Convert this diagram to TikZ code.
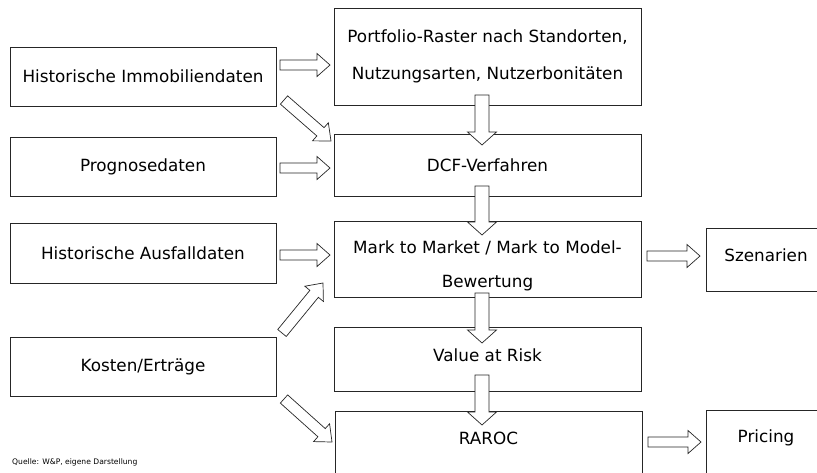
\documentclass[tikz,border=0pt]{standalone}
\usepackage{fontspec}
\setmainfont{DejaVu Sans}
\usetikzlibrary{calc}
\newcommand\blockarr[5]{% #1 tail, #2 tip, #3 half shaft, #4 half head, #5 head length
  \coordinate (tmpH) at ($(#2)!#5!(#1)$);
  \draw[arrowline] ($(#1)!#3!90:(#2)$) -- ($(tmpH)!#3!-90:(#1)$) -- ($(tmpH)!#4!-90:(#1)$) -- (#2)
    -- ($(tmpH)!#4!90:(#1)$) -- ($(tmpH)!#3!90:(#1)$) -- ($(#1)!#3!-90:(#2)$) -- cycle;}
\begin{document}
\begin{tikzpicture}[x=1pt,y=-1pt,
  box/.style={draw=black!85, line width=0.8pt, inner sep=0pt, align=center,
    font=\fontsize{16.8}{37}\selectfont},
  lbl/.style={inner sep=0pt, font=\fontsize{16.8}{37}\selectfont},
  arrowline/.style={draw=black!85, line width=0.7pt, fill=white, line join=miter}]
\clip (0,0) rectangle (817,472);
\useasboundingbox (0,0) rectangle (817,472);
% left boxes
\node[box, minimum width=266, minimum height=59] (hi) at (143,76.5) {Historische Immobiliendaten};
\node[box, minimum width=266, minimum height=59] (pr) at (143,166.5) {Prognosedaten};
\node[box, minimum width=266, minimum height=60] (au) at (143,253) {Historische Ausfalldaten};
\node[box, minimum width=266, minimum height=59] (ko) at (143,366.5) {Kosten/Erträge};
% centre boxes
\node[box, minimum width=307, minimum height=97] (po) at (487.5,56.5) {Portfolio-Raster nach Standorten,\\Nutzungsarten, Nutzerbonitäten};
\node[box, minimum width=307, minimum height=62] (dcf) at (487.5,165) {DCF-Verfahren};
\node[box, minimum width=307, minimum height=76] (mtm) at (487.5,259) {};
\node[lbl, align=center, font=\fontsize{16.8}{34}\selectfont] (mtmT) at (487.5,266) {Mark to Market / Mark to Model-\\Bewertung};
\node[box, minimum width=307, minimum height=64] (var) at (487.5,359) {};
\node[lbl] (varT) at (487.5,355) {Value at Risk};
\node[box, minimum width=307, minimum height=80] (ra) at (488.5,451) {};
\node[lbl] (raT) at (488.5,438) {RAROC};
% right boxes
\node[box, minimum width=124, minimum height=63] (sz) at (768,259.5) {};
\node[lbl] (szT) at (766,255) {Szenarien};
\node[box, minimum width=124, minimum height=80] (pc) at (768,450) {};
\node[lbl] (pcT) at (766,438) {Pricing};
% source
\node[inner sep=0pt, anchor=west, font=\fontsize{7.6}{9}\selectfont] (src) at (12,462) {Quelle: W\&P, eigene Darstellung};
% arrow end points
\coordinate (a1) at (280,65);  \coordinate (b1) at (330,65);
\coordinate (a2) at (284,100); \coordinate (b2) at (331,141);
\coordinate (a3) at (280,168); \coordinate (b3) at (330,168);
\coordinate (a4) at (482,95);  \coordinate (b4) at (482,145);
\coordinate (a5) at (482,186); \coordinate (b5) at (482,235);
\coordinate (a6) at (280,255); \coordinate (b6) at (330,255);
\coordinate (a7) at (282,333); \coordinate (b7) at (323,283);
\coordinate (a8) at (647,256); \coordinate (b8) at (700,256);
\coordinate (a9) at (482,293); \coordinate (b9) at (482,343);
\coordinate (a10) at (482,375); \coordinate (b10) at (482,425);
\coordinate (a11) at (284,399); \coordinate (b11) at (332,442);
\coordinate (a12) at (648,442); \coordinate (b12) at (701,442);
% horizontal arrows
\blockarr{a1}{b1}{5pt}{11.5pt}{13pt}
\blockarr{a3}{b3}{5pt}{11.5pt}{13pt}
\blockarr{a6}{b6}{5pt}{11.5pt}{13pt}
\blockarr{a8}{b8}{5pt}{11.5pt}{13pt}
\blockarr{a12}{b12}{5pt}{11.5pt}{13pt}
% vertical arrows
\blockarr{a4}{b4}{7pt}{14.5pt}{13pt}
\blockarr{a5}{b5}{7pt}{14.5pt}{13pt}
\blockarr{a9}{b9}{7pt}{14.5pt}{13pt}
\blockarr{a10}{b10}{7pt}{14.5pt}{13pt}
% diagonal arrows
\blockarr{a2}{b2}{5.5pt}{12pt}{14pt}
\blockarr{a7}{b7}{5.5pt}{12pt}{14pt}
\blockarr{a11}{b11}{5.5pt}{12pt}{14pt}
\end{tikzpicture}
\end{document}
